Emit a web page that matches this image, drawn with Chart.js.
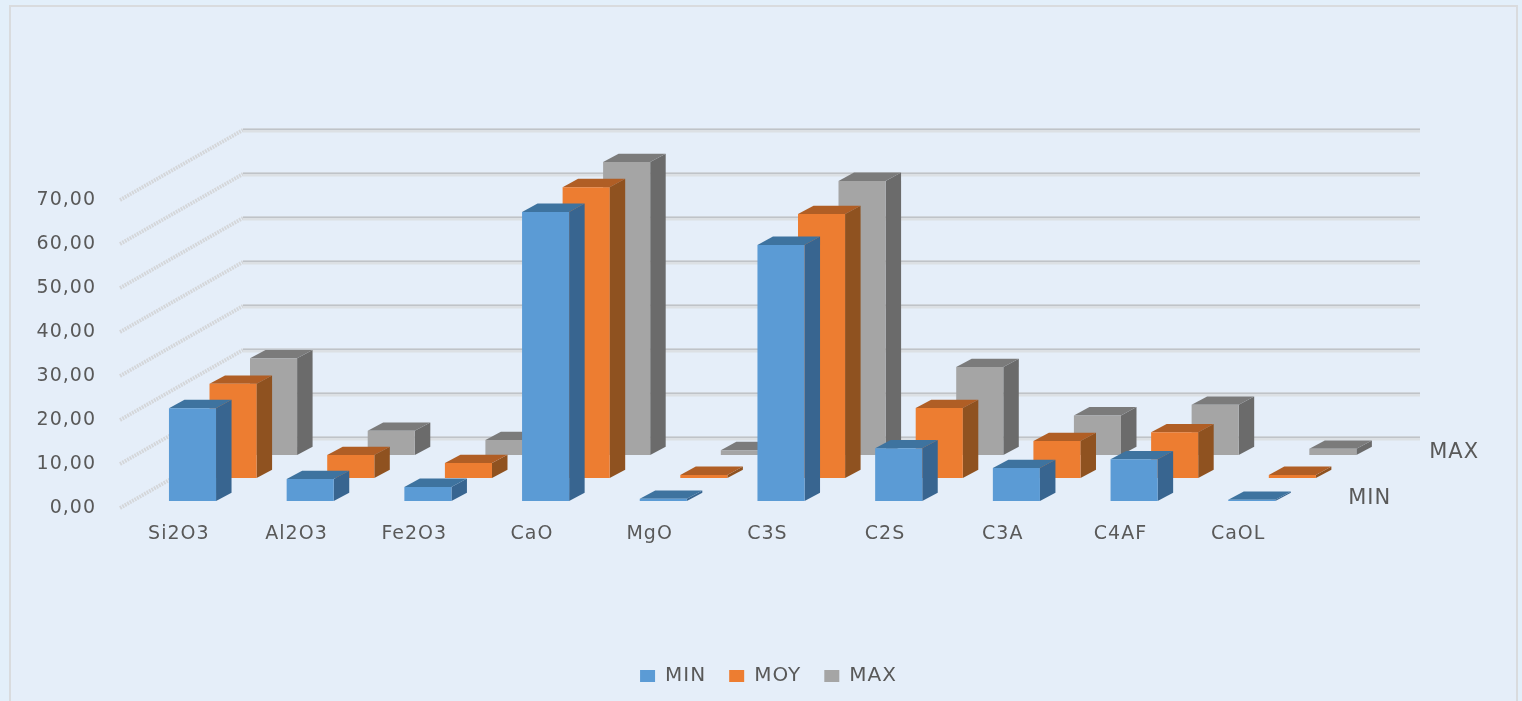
<!DOCTYPE html>
<html>
<head>
<meta charset="utf-8">
<style>
html,body{margin:0;padding:0;background:#E3EFFA;width:1522px;height:701px;overflow:hidden}
#frame{position:absolute;left:9px;top:5px;width:1505px;height:720px;border:2px solid #D9DBDE;background:#E5EEF9}
canvas{position:absolute;left:0;top:0;filter:blur(0.45px)}
</style>
<script src="https://cdn.jsdelivr.net/npm/chart.js@4"></script>
</head>
<body>
<div id="frame"></div>
<canvas id="c" width="1522" height="701"></canvas>
<script>
const categories = ['Si2O3','Al2O3','Fe2O3','CaO','MgO','C3S','C2S','C3A','C4AF','CaOL'];
const minValues = [21.1, 5.0, 3.2, 65.7, 0.5, 58.2, 12.0, 7.5, 9.5, 0.3];
const moyValues = [21.4, 5.2, 3.4, 66.1, 0.7, 60.0, 15.9, 8.4, 10.4, 0.7];
const maxValues = [22.0, 5.5, 3.4, 66.6, 1.1, 62.3, 20.0, 9.0, 11.4, 1.4];
const depthLabels = ['MIN', '', 'MAX'];

const TEXT = '#595959';
const FONT = 'DejaVu Sans';
const rows = [{dx:13.65, dy:-7}, {dx:54.2, dy:-30}, {dx:94.7, dy:-53}];
const wall = {dx:123, dy:-70};
const face = {dx:15.5, dy:-8.3};
const shades = [
  {front:'#5B9BD5', side:'#386590', top:'#3E739F'},
  {front:'#ED7D31', side:'#8F5220', top:'#B05E25'},
  {front:'#A5A5A5', side:'#6B6B6B', top:'#7B7B7B'}
];
const area = {left:120, right:1297, top:200, bottom:508};
const legendCentre = {x:768.5, y:669.5};

const poly = (ctx, pts, fill) => {
  ctx.beginPath();
  pts.forEach((p,i)=> i ? ctx.lineTo(p[0],p[1]) : ctx.moveTo(p[0],p[1]));
  ctx.closePath();
  ctx.fillStyle = fill;
  ctx.fill();
};

const bars3d = {
  id:'bars3d',
  beforeLayout(chart){ chart.ctx.letterSpacing = '1px'; },
  afterLayout(chart){
    const L = chart.legend;
    const sx = legendCentre.x - (L.left + L.right)/2;
    const sy = legendCentre.y - (L.top + L.bottom)/2;
    L.left += sx; L.right += sx; L.top += sy; L.bottom += sy;
  },
  afterDatasetsUpdate(chart){
    chart.data.datasets.forEach((ds,i)=>{
      chart.getDatasetMeta(i).data.forEach(el=>{
        el.x += rows[i].dx; el.y += rows[i].dy; el.base += rows[i].dy;
      });
    });
  },
  beforeDatasetsDraw(chart){
    const {ctx, scales:{x, y}} = chart;
    ctx.save();
    y.ticks.forEach(t=>{
      const py = y.getPixelForValue(t.value);
      ctx.lineCap = 'butt';
      ctx.strokeStyle = '#D4D6D9';
      ctx.lineWidth = 3.8;
      ctx.setLineDash([1.8,1.0]);
      ctx.beginPath();
      ctx.moveTo(x.left, py);
      ctx.lineTo(x.left+wall.dx, py+wall.dy);
      ctx.stroke();
      ctx.setLineDash([]);
      ctx.fillStyle = '#DCE0E4';
      ctx.fillRect(x.left+wall.dx, py+wall.dy-1.5, x.right-x.left, 4);
      ctx.fillStyle = '#BFC3C8';
      ctx.fillRect(x.left+wall.dx, py+wall.dy-1.5, x.right-x.left, 1.5);
    });
    ctx.restore();
    ctx.save();
    ctx.font = '21px "'+FONT+'"';
    ctx.fillStyle = TEXT;
    ctx.textAlign = 'left';
    ctx.textBaseline = 'middle';
    depthLabels.forEach((label,i)=>{
      if(label) ctx.fillText(label, x.right+rows[i].dx+37.5, y.getPixelForValue(0)+rows[i].dy-2);
    });
    ctx.restore();
  },
  beforeDatasetDraw(chart, args){
    const {ctx} = chart;
    const c = shades[args.index];
    args.meta.data.forEach(el=>{
      const w = el.width/2, l = el.x-w, r = el.x+w, t = el.y, b = el.base;
      poly(ctx, [[r,t],[r+face.dx,t+face.dy],[r+face.dx,b+face.dy],[r,b]], c.side);
      poly(ctx, [[l,t],[l+face.dx,t+face.dy],[r+face.dx,t+face.dy],[r,t]], c.top);
    });
  }
};

const mk = (label, data, i) => ({
  label, data,
  backgroundColor: shades[i].front,
  borderWidth: 0,
  clip: false,
  grouped: false,
  barPercentage: 0.4,
  categoryPercentage: 1
});

new Chart(document.getElementById('c'), {
  type:'bar',
  data:{
    labels:categories,
    datasets:[mk('MIN',minValues,0), mk('MOY',moyValues,1), mk('MAX',maxValues,2)]
  },
  options:{
    responsive:false,
    animation:false,
    layout:{padding:{top:area.top, right:1522-area.right, left:0, bottom:0}},
    plugins:{
      tooltip:{enabled:false},
      legend:{
        position:'bottom',
        labels:{boxWidth:15, boxHeight:12, padding:23, color:TEXT, font:{family:FONT, size:20}}
      }
    },
    scales:{
      x:{
        grid:{display:false}, border:{display:false},
        ticks:{color:TEXT, font:{family:FONT, size:19}, padding:7, maxRotation:0, autoSkip:false},
        afterFit(s){ s.height = 701 - area.bottom - s.chart.legend.height; }
      },
      y:{
        min:0, max:70,
        grid:{display:false}, border:{display:false},
        ticks:{stepSize:10, color:TEXT, font:{family:FONT, size:19}, padding:16,
          callback:v=>v.toFixed(2).replace('.',',')},
        afterFit(s){ s.width = area.left; }
      }
    }
  },
  plugins:[bars3d]
});
</script>
</body>
</html>
